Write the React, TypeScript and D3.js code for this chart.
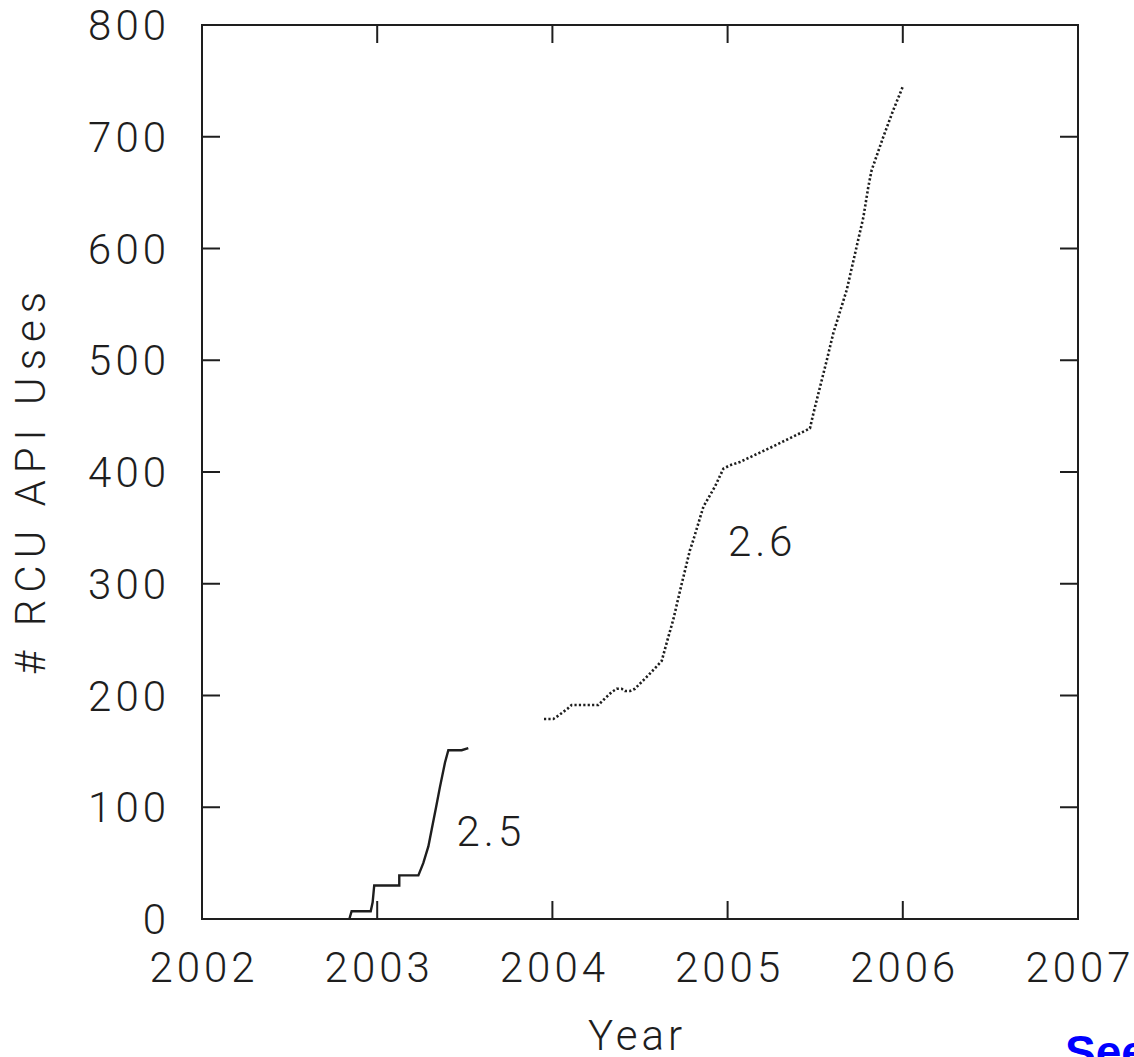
import React from "react";
import * as d3 from "d3";

// ---- data ----
const xTicks = [2002, 2003, 2004, 2005, 2006, 2007];
const yTicks = [0, 100, 200, 300, 400, 500, 600, 700, 800];

// kernel 2.5 (solid) : [year, uses]
const series25Years = [2002.841, 2002.854, 2002.963, 2002.974, 2002.983, 2003.126, 2003.126, 2003.235, 2003.263, 2003.292, 2003.311, 2003.336, 2003.358, 2003.387, 2003.406, 2003.482, 2003.52];
const series25Values = [0, 7, 7, 15, 30, 30, 39, 39, 50, 65, 80, 100, 118, 140, 151, 151, 153];

// kernel 2.6 (dotted)
const series26Years = [2003.952, 2004.005, 2004.034, 2004.085, 2004.11, 2004.262, 2004.291, 2004.338, 2004.367, 2004.395, 2004.414, 2004.443, 2004.471, 2004.496, 2004.547, 2004.595, 2004.624, 2004.652, 2004.69, 2004.738, 2004.757, 2004.785, 2004.804, 2004.862, 2004.928, 2004.976, 2005.014, 2005.071, 2005.261, 2005.47, 2005.489, 2005.566, 2005.603, 2005.68, 2005.737, 2005.775, 2005.803, 2005.822, 2005.889, 2005.946, 2006.003];
const series26Values = [179, 179, 182, 188, 191.5, 191.5, 196, 203, 206, 206, 204, 204, 206, 210, 218, 226, 231, 247, 268, 300, 312, 330, 339, 369, 387, 403, 406, 409, 423, 439, 452, 500, 524, 563, 602, 628, 655, 670, 700, 724, 746];

const seriesLabels = ["2.5", "2.6"];
const labelYears = [2003.453, 2005.002];
const labelValues = [79, 338];

const FONT = "Roboto, 'Open Sans', sans-serif";
const WEIGHT = 300;
const INK = "#1e1e1e";

export default function App() {
  const W = 1134;
  const H = 1057;
  const x = d3.scaleLinear().domain([2002, 2007]).range([202, 1078]);
  const y = d3.scaleLinear().domain([0, 800]).range([919, 25]);
  const line = d3
    .line<[number, number]>()
    .x((d) => x(d[0]))
    .y((d) => y(d[1]));

  const pts25 = series25Years.map((yr, i) => [yr, series25Values[i]] as [number, number]);
  const pts26 = series26Years.map((yr, i) => [yr, series26Values[i]] as [number, number]);

  const [x0, x1] = x.range();
  const [yb, yt] = y.range();
  const tickLen = 18;
  const fs = 42;
  const ls = 4;

  const textProps = {
    fontFamily: FONT,
    fontSize: fs,
    fontWeight: WEIGHT,
    letterSpacing: ls,
    fill: INK,
    style: { fontVariantNumeric: "tabular-nums" as const },
  };

  return (
    <svg
      width={W}
      height={H}
      style={{ position: "absolute", left: 0, top: 0, background: "#fff" }}
      xmlns="http://www.w3.org/2000/svg"
    >
      <rect x={0} y={0} width={W} height={H} fill="#fff" />
      {/* frame */}
      <rect x={x0} y={yt} width={x1 - x0} height={yb - yt} fill="none" stroke={INK} strokeWidth={2} />
      {/* x ticks inward top & bottom */}
      {xTicks.slice(1, -1).map((t) => (
        <g key={"xt" + t}>
          <line x1={x(t)} x2={x(t)} y1={yb} y2={yb - tickLen} stroke={INK} strokeWidth={2} />
          <line x1={x(t)} x2={x(t)} y1={yt} y2={yt + tickLen} stroke={INK} strokeWidth={2} />
        </g>
      ))}
      {/* y ticks inward left & right */}
      {yTicks.slice(1, -1).map((t) => (
        <g key={"yt" + t}>
          <line x1={x0} x2={x0 + tickLen} y1={y(t)} y2={y(t)} stroke={INK} strokeWidth={2} />
          <line x1={x1} x2={x1 - tickLen} y1={y(t)} y2={y(t)} stroke={INK} strokeWidth={2} />
        </g>
      ))}
      {/* tick labels */}
      {xTicks.map((t) => (
        <text key={"xl" + t} x={x(t) + ls / 2} y={982} textAnchor="middle" {...textProps}>
          {String(t)}
        </text>
      ))}
      {yTicks.map((t) => (
        <text key={"yl" + t} x={166 + ls} y={y(t) + 15} textAnchor="end" {...textProps}>
          {String(t)}
        </text>
      ))}
      {/* axis titles */}
      <text x={635 + ls / 2} y={1050} textAnchor="middle" {...textProps}>
        Year
      </text>
      <text transform={`translate(45, 480) rotate(-90)`} textAnchor="middle" {...textProps} letterSpacing={7}>
        # RCU API Uses
      </text>
      {/* series */}
      <path d={line(pts25) || ""} fill="none" stroke={INK} strokeWidth={2.4} strokeLinejoin="miter" />
      <path d={line(pts26) || ""} fill="none" stroke={INK} strokeWidth={2.6} strokeDasharray="2.2 2.2" />
      {seriesLabels.map((s, i) => (
        <text key={s} x={x(labelYears[i])} y={y(labelValues[i]) + 15} {...textProps}>
          {s}
        </text>
      ))}
      {/* cut-off link text */}
      <text x={1065} y={1068} fontFamily="'Liberation Sans', Arial, sans-serif" fontWeight="bold" fontSize={46} fill="#0000ff">
        See
      </text>
    </svg>
  );
}
